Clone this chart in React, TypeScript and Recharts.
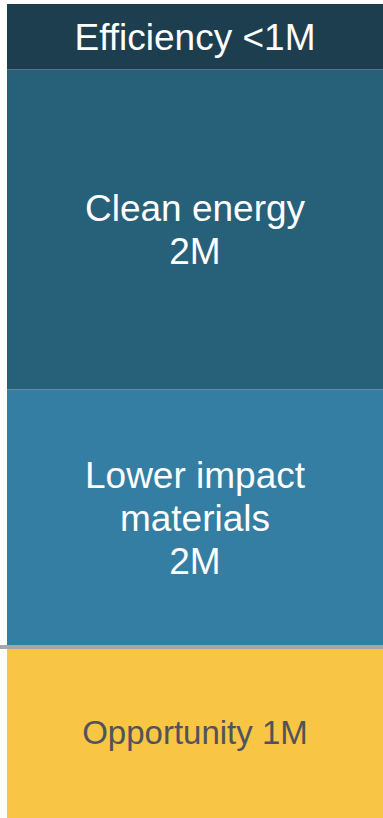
import { BarChart, Bar, XAxis, YAxis, ReferenceLine, LabelList } from 'recharts'

// stack order: bottom -> top
const segments = ['Opportunity', 'Lower impact materials', 'Clean energy', 'Efficiency']
const values = [1.07, 1.61, 2.0, 0.41]
const labelLines = [
  ['Opportunity 1M'],
  ['Lower impact', 'materials', '2M'],
  ['Clean energy', '2M'],
  ['Efficiency <1M'],
]
const colors = ['#f8c544', '#347ea3', '#276079', '#1d3e4f']
const textColors = ['#505358', '#ffffff', '#ffffff', '#ffffff']
const fontSizes = [33, 37, 37, 37]

const row: Record<string, string | number> = { name: 'Total' }
segments.forEach((s, i) => {
  row[s] = values[i]
})
const data = [row]
const total = values.reduce((a, b) => a + b, 0)

function segmentLabel(idx: number) {
  return (props: any) => {
    const { x, y, width, height } = props
    const lines = labelLines[idx]
    const fs = fontSizes[idx]
    const lh = 43
    const cx = Number(x) + Number(width) / 2
    const cy = Number(y) + Number(height) / 2
    const firstBase = cy - ((lines.length - 1) * lh) / 2 + fs * 0.35
    return (
      <text
        x={cx}
        y={firstBase}
        textAnchor="middle"
        fill={textColors[idx]}
        fontSize={fs}
        fontFamily="'Liberation Sans', Arial, sans-serif"
      >
        {lines.map((l, i) => (
          <tspan key={i} x={cx} y={firstBase + i * lh}>
            {l}
          </tspan>
        ))}
      </text>
    )
  }
}

function fullWidthLine(props: any) {
  const { y1, x2 } = props
  return <line x1={0} y1={y1} x2={x2} y2={y1} stroke="#a6a6a6" strokeWidth={4} />
}

export default function App() {
  return (
    <div style={{ position: 'absolute', left: 0, top: 0, width: 383, height: 818, background: '#fff' }}>
      <BarChart
        width={383}
        height={818}
        data={data}
        margin={{ top: 4, right: 0, left: 7, bottom: 0 }}
        barCategoryGap={0}
      >
        <XAxis dataKey="name" hide />
        <YAxis hide domain={[0, total]} />
        {segments.map((s, i) => (
          <Bar key={s} dataKey={s} stackId="a" fill={colors[i]} isAnimationActive={false}>
            <LabelList dataKey={s} content={segmentLabel(i)} />
          </Bar>
        ))}
        <ReferenceLine y={values[0]} shape={fullWidthLine} />
      </BarChart>
    </div>
  )
}
